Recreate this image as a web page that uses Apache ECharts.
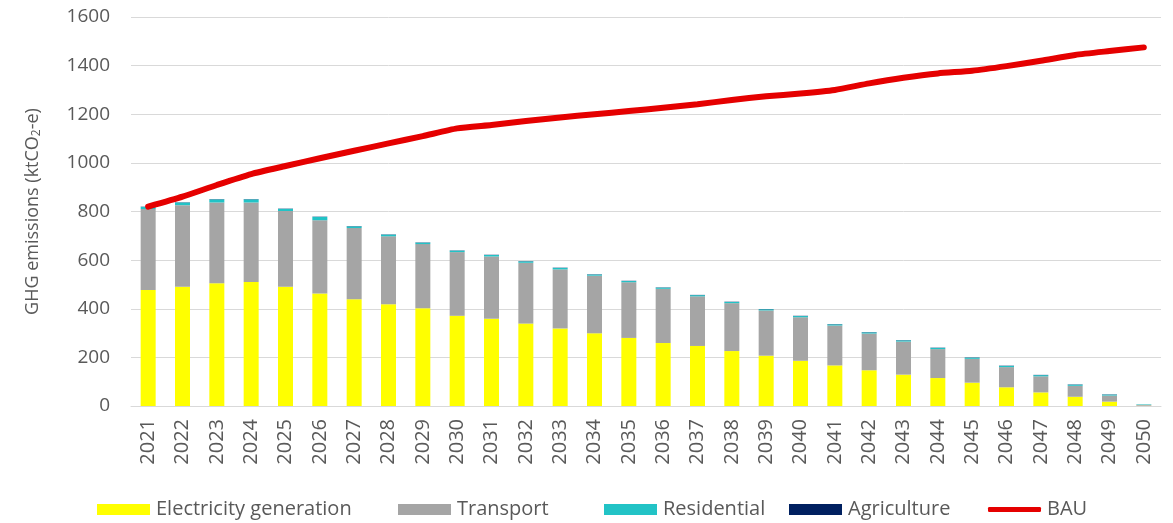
<!DOCTYPE html>
<html>
<head>
<meta charset="utf-8">
<script src="https://cdn.jsdelivr.net/npm/echarts@6/dist/echarts.min.js"></script>
<style>
  html, body { margin: 0; padding: 0; background: #ffffff; }
  #chart { width: 1173px; height: 523px; }
</style>
</head>
<body>
<div id="chart"></div>
<script>
// Emissions pathway by sector, 2021–2050 (ktCO2-e)
const years = ['2021','2022','2023','2024','2025','2026','2027','2028','2029','2030',
               '2031','2032','2033','2034','2035','2036','2037','2038','2039','2040',
               '2041','2042','2043','2044','2045','2046','2047','2048','2049','2050'];

const electricity = [477, 491, 505, 510, 491, 463, 439, 418, 402, 371,
                     359, 339, 319, 299, 280, 259, 247, 226, 207, 186,
                     167, 147, 129, 115, 96, 77, 56, 38, 18, 1];

const transport = [333, 335, 332, 327, 311, 301, 293, 280, 264, 262,
                   256, 250, 243, 237, 229, 223, 204, 197, 186, 179,
                   164, 151, 136, 119, 98, 83, 66, 45, 25, 4];

const residential = [9, 11, 13, 13, 9, 14, 7, 7, 6, 6,
                     6, 6, 6, 5, 5, 5, 5, 5, 5, 5,
                     5, 5, 5, 5, 5, 5, 5, 5, 4, 2];

const agriculture = [1, 1, 1, 1, 1, 1, 1, 1, 1, 1,
                     1, 1, 1, 1, 1, 1, 1, 1, 1, 1,
                     1, 1, 1, 1, 1, 1, 1, 1, 1, 0];

const bau = [820, 861, 909, 954, 987, 1019, 1050, 1080, 1110, 1142,
             1156, 1172, 1187, 1200, 1213, 1227, 1241, 1259, 1274, 1285,
             1300, 1327, 1350, 1368, 1379, 1398, 1420, 1444, 1460, 1475];

const yTicks = { min: 0, max: 1600, interval: 200 };

const FONT = '"Open Sans", "DejaVu Sans", sans-serif';
const TEXT = '#595959';
const GRIDLINE = '#d9d9d9';

const COLORS = {
  electricity: '#ffff00',
  transport: '#a5a5a5',
  residential: '#22c3c6',
  agriculture: '#002060',
  bau: '#e50000'
};

const chart = echarts.init(document.getElementById('chart'), null, { renderer: 'canvas' });

function barSeries(name, data, color) {
  return {
    name: name,
    type: 'bar',
    stack: 'sectors',
    data: data,
    barWidth: 15,
    itemStyle: { color: color },
    emphasis: { disabled: true }
  };
}

// One legend block per entry so each key sits at its own spot along the bottom row
function legendEntry(name, left, opts) {
  return Object.assign({
    left: left,
    top: 498,
    padding: 0,
    itemWidth: 53,
    itemHeight: 11,
    itemGap: 0,
    selectedMode: false,
    icon: 'rect',
    textStyle: { fontFamily: FONT, fontSize: 20, lineHeight: 23, color: TEXT, padding: [0, 0, 0, 1] },
    data: [name]
  }, opts || {});
}

chart.setOption({
  animation: false,
  backgroundColor: '#ffffff',
  textStyle: { fontFamily: FONT },
  grid: { left: 131, right: 12, top: 17, bottom: 117, containLabel: false },
  legend: [
    legendEntry('Electricity generation', 97),
    legendEntry('Transport', 398),
    legendEntry('Residential', 604),
    legendEntry('Agriculture', 789),
    legendEntry('BAU', 988, { icon: 'roundRect', itemHeight: 5 })
  ],
  xAxis: {
    type: 'category',
    data: years,
    axisLine: { lineStyle: { color: GRIDLINE, width: 1 } },
    axisTick: { show: false },
    axisLabel: {
      rotate: 90,
      interval: 0,
      margin: 13,
      fontFamily: FONT,
      fontSize: 20,
      color: TEXT
    }
  },
  yAxis: {
    type: 'value',
    min: yTicks.min,
    max: yTicks.max,
    interval: yTicks.interval,
    name: 'GHG emissions (ktCO{sub|2}-e)',
    nameLocation: 'middle',
    nameRotate: 90,
    nameGap: 89,
    nameTextStyle: {
      fontFamily: FONT,
      fontSize: 18,
      color: TEXT,
      rich: {
        sub: { fontFamily: FONT, fontSize: 12, color: TEXT, padding: [0, 0, -8, 0] }
      }
    },
    axisLine: { show: false },
    axisTick: { show: false },
    splitLine: { lineStyle: { color: GRIDLINE, width: 1 } },
    axisLabel: {
      margin: 21,
      fontFamily: FONT,
      fontSize: 19,
      color: TEXT,
      formatter: function (v) { return String(v); }
    }
  },
  series: [
    barSeries('Electricity generation', electricity, COLORS.electricity),
    barSeries('Transport', transport, COLORS.transport),
    barSeries('Residential', residential, COLORS.residential),
    barSeries('Agriculture', agriculture, COLORS.agriculture),
    {
      name: 'BAU',
      type: 'line',
      data: bau,
      symbol: 'none',
      smooth: 0.2,
      z: 5,
      lineStyle: { color: COLORS.bau, width: 6, cap: 'round', join: 'round' },
      itemStyle: { color: COLORS.bau },
      emphasis: { disabled: true }
    }
  ]
});
</script>
</body>
</html>
